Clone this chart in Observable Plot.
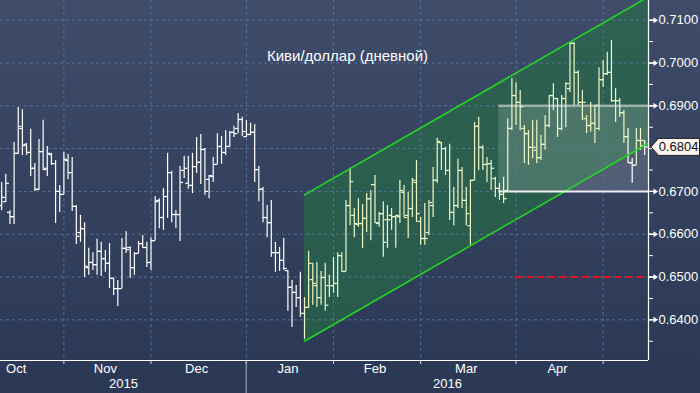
<!DOCTYPE html>
<html><head><meta charset="utf-8">
<script src="https://cdn.jsdelivr.net/npm/d3@7"></script>
<script src="https://cdn.jsdelivr.net/npm/@observablehq/plot@0.6"></script>
<style>
html,body{margin:0;padding:0;width:700px;height:393px;overflow:hidden;
background:linear-gradient(to bottom,#3f4c6a 0px,#34425f 180px,#2b3855 393px);}
#chart svg{display:block;}
</style></head><body><div id="chart"></div>
<script>
const title = "Киви/доллар (дневной)";
const firstDate = "2015-10-12";
const opens = [.6667,.6676,.6651,.6641,.6789,.6847,.6810,.6791,.6754,.6705,.6793,.6754,.6786,.6765,.6700,
.6693,.6772,.6744,.6665,.6604,.6613,.6522,.6534,.6529,.6560,.6543,.6532,.6497,.6473,.6473,.6567,.6569,.6522,.6555,.6578,.6569,
.6534,.6585,.6679,.6639,.6688,.6744,.6646,.6646,.6749,.6719,.6714,.6758,.6768,.6798,.6728,.6735,.6763,.6805,.6791,.6805,.6838,.6847,.6868,
.6828,.6833,.6838,.6751,.6705,.6639,.6627,.6557,.6557,.6539,.6515,.6476,.6464,.6452,.6415,.6429,.6494,.6480,.6452,.6499,.6480,
.6480,.6485,.6550,.6513,.6667,.6644,.6623,.6625,.6637,.6683,.6716,.6625,.6648,.6634,.6644,.6641,.6641,.6698,.6644,.6660,.6721,
.6630,.6590,.6604,.6667,.6726,.6814,.6800,.6749,.6651,.6667,.6749,.6679,.6620,.6726,.6852,.6803,.6763,.6765,.6730,.6707,.6693,.6702,.6847,
.6924,.6908,.6847,.6835,.6803,.6796,.6779,.6810,.6854,.6924,.6917,.6847,.6917,.6940,.7046,.6978,.6908,.6870,.6854,.6859,.6847,
.6961,.6975,.6978,.6912,.6912,.6884,.6828,.6767,.6761,.6819,.6807];
const highs = [.6721,.6740,.6655,.6814,.6896,.6891,.6812,.6845,.6765,.6821,.6866,.6805,.6789,.6772,.6714,
.6791,.6786,.6779,.6667,.6644,.6627,.6567,.6557,.6588,.6581,.6562,.6578,.6497,.6492,.6590,.6606,.6571,.6557,.6583,.6597,.6581,
.6592,.6688,.6683,.6707,.6789,.6747,.6655,.6758,.6782,.6782,.6789,.6826,.6833,.6800,.6737,.6779,.6835,.6828,.6842,.6840,.6852,.6882,.6873,
.6866,.6859,.6856,.6758,.6709,.6667,.6679,.6581,.6569,.6590,.6515,.6492,.6480,.6511,.6452,.6560,.6532,.6534,.6513,.6532,.6504,
.6546,.6557,.6557,.6679,.6754,.6660,.6683,.6669,.6695,.6702,.6737,.6651,.6676,.6667,.6660,.6644,.6726,.6714,.6698,.6730,.6772,
.6639,.6672,.6679,.6756,.6824,.6814,.6803,.6810,.6709,.6775,.6756,.6709,.6726,.6861,.6873,.6807,.6779,.6772,.6733,.6719,.6733,.6870,.6964,
.6954,.6936,.6854,.6842,.6866,.6866,.6831,.6877,.6924,.6952,.6917,.6924,.6954,.7048,.7048,.6982,.6936,.6877,.6908,.6901,.6989,
.7006,.7025,.7053,.6940,.6917,.6889,.6847,.6777,.6847,.6847,.6819];
const lows = [.6655,.6674,.6623,.6623,.6786,.6784,.6784,.6735,.6700,.6702,.6749,.6735,.6761,.6625,.6651,
.6693,.6728,.6653,.6576,.6581,.6499,.6504,.6515,.6504,.6501,.6511,.6473,.6457,.6431,.6473,.6555,.6497,.6504,.6555,.6567,.6522,
.6515,.6585,.6613,.6609,.6637,.6627,.6613,.6583,.6730,.6705,.6695,.6742,.6716,.6691,.6683,.6721,.6763,.6763,.6784,.6803,.6826,.6835,.6828,
.6826,.6831,.6721,.6676,.6627,.6592,.6546,.6511,.6513,.6515,.6420,.6382,.6429,.6406,.6354,.6427,.6434,.6429,.6434,.6420,.6452,
.6462,.6452,.6511,.6513,.6620,.6592,.6616,.6567,.6604,.6585,.6625,.6616,.6546,.6567,.6609,.6567,.6625,.6639,.6590,.6639,.6627,
.6574,.6574,.6597,.6639,.6719,.6749,.6737,.6632,.6620,.6660,.6660,.6620,.6574,.6726,.6749,.6749,.6721,.6702,.6686,.6679,.6672,.6698,.6842,
.6854,.6842,.6765,.6761,.6777,.6765,.6772,.6796,.6849,.6889,.6826,.6842,.6849,.6931,.6901,.6901,.6866,.6835,.6838,.6812,.6842,
.6943,.6971,.6908,.6861,.6873,.6812,.6765,.6719,.6761,.6796,.6784];
const closes = [.6686,.6719,.6641,.6789,.6852,.6807,.6791,.6754,.6705,.6793,.6751,.6789,.6765,.6700,.6693,
.6775,.6744,.6665,.6595,.6613,.6525,.6534,.6529,.6560,.6543,.6532,.6497,.6473,.6473,.6567,.6564,.6522,.6555,.6578,.6569,.6534,
.6585,.6676,.6639,.6688,.6744,.6646,.6646,.6721,.6754,.6714,.6758,.6768,.6798,.6700,.6737,.6763,.6805,.6791,.6805,.6838,.6835,.6868,.6840,
.6833,.6838,.6751,.6705,.6639,.6627,.6557,.6557,.6539,.6520,.6476,.6464,.6452,.6415,.6429,.6532,.6485,.6452,.6499,.6434,.6480,
.6485,.6550,.6513,.6667,.6723,.6625,.6625,.6637,.6683,.6716,.6627,.6648,.6581,.6634,.6641,.6644,.6702,.6639,.6660,.6726,.6648,
.6590,.6590,.6674,.6726,.6817,.6800,.6749,.6651,.6667,.6749,.6679,.6648,.6726,.6852,.6803,.6763,.6765,.6754,.6707,.6693,.6683,.6847,.6924,
.6908,.6898,.6835,.6803,.6803,.6779,.6810,.6854,.6924,.6917,.6847,.6917,.6952,.7046,.6978,.6908,.6908,.6854,.6859,.6901,.6961,
.6975,.6978,.6912,.6912,.6884,.6828,.6767,.6761,.6819,.6819,.6804];
const lastPrice = 0.6804;
const monthLabels = ["Oct","Nov","Dec","Jan","Feb","Mar","Apr"];
const monthKeys = ["2015-10","2015-11","2015-12","2016-01","2016-02","2016-03","2016-04"];
const gridMonths = ["2015-11","2015-12","2016-01","2016-02","2016-03","2016-04","2016-05"];
const yearLabels = ["2015","2016"];
const yearStart2016 = "2016-01";
const yTickLabels = ["0.6400","0.6500","0.6600","0.6700","0.6800","0.6900","0.7000","0.7100"];
const yMinorTicks = [0.635,0.645,0.655,0.665,0.675,0.685,0.695,0.705];
const channelDates = ["2016-01-21","2016-05-17"];
const channelLower = [0.6350, 0.6813];
const channelUpper = [0.6692, 0.7155];
const rangeStart = "2016-03-28";
const rangeLow = 0.67, rangeHigh = 0.69;
const targetStart = "2016-04-01";
const targetLevel = 0.65;

// weekday calendar (trading-day axis)
const days = d3.utcDay.range(new Date("2015-10-01"), new Date("2016-06-01")).filter(d => d.getUTCDay() % 6 !== 0);
const iso = d => d.toISOString().slice(0,10);
const pos = new Map(days.map((d,k) => [iso(d), k]));
const idx = s => pos.get(s);
const monthFirst = m => days.findIndex(d => iso(d).slice(0,7) === m);
const monthLast = m => { let r = -1; days.forEach((d,k) => { if (iso(d).slice(0,7) === m) r = k; }); return r; };

const p0 = idx(firstDate);
const xDomain = [p0 - 0.28, p0 + opens.length - 1 + 0.93];
const yDomain = [0.6305, 0.7146];

const chanI = channelDates.map(idx);
const lowerAt = i => channelLower[0] + (channelLower[1]-channelLower[0])*(i-chanI[0])/(chanI[1]-chanI[0]);
const channel = chanI.map((i,k) => ({i, lo: channelLower[k], hi: channelUpper[k]}));

const bars = opens.map((o,k) => {
  const i = p0 + k;
  return {i, o, h: highs[k], l: lows[k], c: closes[k], inside: i >= chanI[0] && closes[k] >= lowerAt(i)};
});
const whiteBars = bars.filter(d => !d.inside);
const paleBars = bars.filter(d => d.inside);

const months = monthKeys.map((m,k) => ({label: monthLabels[k], x: (monthFirst(m) + monthLast(m)) / 2}));
const gridX = gridMonths.map(monthFirst);
const jan = monthFirst(yearStart2016);
const years = [{label: yearLabels[0], x: (xDomain[0] + jan)/2}, {label: yearLabels[1], x: (jan + xDomain[1])/2}];

const majorTicks = yTickLabels.map(Number);
const allTicks = majorTicks.concat(yMinorTicks);
const shownMajors = majorTicks.filter(v => Math.abs(v - lastPrice) > 0.0012);
const isShown = v => shownMajors.some(m => Math.abs(m - v) < 1e-7);

const arrowSym = {draw(ctx){ ctx.moveTo(0,-0.7); ctx.lineTo(5,-0.7); ctx.lineTo(5,-3); ctx.lineTo(9.5,0); ctx.lineTo(5,3); ctx.lineTo(5,0.7); ctx.lineTo(0,0.7); ctx.closePath(); }};
const labelSym = {draw(ctx){ ctx.moveTo(2.5,0); ctx.lineTo(10,-8.5); ctx.lineTo(51,-8.5); ctx.lineTo(51,8.5); ctx.lineTo(10,8.5); ctx.closePath(); }};

const grid = {stroke: "#5d7b98", strokeOpacity: 0.8, strokeDasharray: "3,3", strokeWidth: 1};
const barW = 1.2;

const chart = Plot.plot({
  width: 700, height: 393,
  marginLeft: 0, marginRight: 52, marginTop: 0, marginBottom: 33,
  style: {background: "transparent", color: "white", fontFamily: "'Liberation Sans', Arial, sans-serif", fontSize: "13px", overflow: "visible"},
  x: {domain: xDomain, axis: null},
  y: {domain: yDomain, axis: "right", ticks: allTicks, tickSize: 4, tickPadding: 6, label: null,
      tickFormat: v => isShown(v) ? v.toFixed(4) : ""},
  marks: [
    Plot.area(channel, {x1: "i", y1: "lo", y2: "hi", fill: "#266f45", fillOpacity: 0.62, clip: true}),
    Plot.rect([{x1: idx(rangeStart) - 0.15, x2: xDomain[1], y1: rangeLow, y2: rangeHigh}], {x1: "x1", x2: "x2", y1: "y1", y2: "y2", fill: "white", fillOpacity: 0.15}),
    Plot.ruleY(majorTicks, {...grid}),
    Plot.ruleX(gridX, {...grid}),
    Plot.ruleX(whiteBars, {x: "i", y1: "l", y2: "h", stroke: "white", strokeWidth: barW}),
    Plot.link(whiteBars, {x1: d => d.i - 0.75, x2: "i", y1: "o", y2: "o", stroke: "white", strokeWidth: barW}),
    Plot.link(whiteBars, {x1: "i", x2: d => d.i + 0.75, y1: "c", y2: "c", stroke: "white", strokeWidth: barW}),
    Plot.ruleX(paleBars, {x: "i", y1: "l", y2: "h", stroke: "#edf8c6", strokeWidth: barW}),
    Plot.link(paleBars, {x1: d => d.i - 0.75, x2: "i", y1: "o", y2: "o", stroke: "#edf8c6", strokeWidth: barW}),
    Plot.link(paleBars, {x1: "i", x2: d => d.i + 0.75, y1: "c", y2: "c", stroke: "#edf8c6", strokeWidth: barW}),
    Plot.line(channel, {x: "i", y: "lo", stroke: "#22d622", strokeWidth: 1.6, clip: true}),
    Plot.line(channel, {x: "i", y: "hi", stroke: "#22d622", strokeWidth: 1.6, clip: true}),
    Plot.ruleY([{y: rangeHigh, x1: idx(rangeStart) - 0.15, x2: xDomain[1]}], {y: "y", x1: "x1", x2: "x2", stroke: "#dfe8e0", strokeOpacity: 0.55, strokeWidth: 2.5}),
    Plot.ruleY([{y: rangeLow, x1: idx(rangeStart) - 0.15, x2: xDomain[1]}], {y: "y", x1: "x1", x2: "x2", stroke: "white", strokeOpacity: 0.9, strokeWidth: 2}),
    Plot.ruleY([{y: targetLevel, x1: idx(targetStart), x2: xDomain[1]}], {y: "y", x1: "x1", x2: "x2", stroke: "#e3121a", strokeWidth: 2, strokeDasharray: "7,4"}),
    Plot.ruleX([xDomain[1]], {stroke: "white", strokeWidth: 1.2}),
    Plot.ruleY([yDomain[0]], {stroke: "white", strokeWidth: 1.2}),
    Plot.ruleX(gridX, {insetTop: 360, insetBottom: -4, stroke: "white", strokeOpacity: 0.8}),
    Plot.ruleX([jan - 0.05], {insetTop: 362, insetBottom: -33, stroke: "#c9d1dc", strokeOpacity: 0.8}),
    Plot.dot(shownMajors, {y: d => d, frameAnchor: "right", symbol: arrowSym, fill: "white", stroke: "none"}),
    Plot.dot([lastPrice], {y: d => d, frameAnchor: "right", symbol: labelSym, fill: "#fff5ef", stroke: "#222", strokeWidth: 1}),
    Plot.text([lastPrice], {y: d => d, frameAnchor: "right", dx: 30, text: d => d.toFixed(4), fill: "#111", fontSize: 13, textAnchor: "middle"}),
    Plot.text(months, {x: "x", text: "label", frameAnchor: "bottom", dy: 12, fill: "white", fontSize: 13}),
    Plot.text(years, {x: "x", text: "label", frameAnchor: "bottom", dy: 27, fill: "white", fontSize: 13}),
    Plot.text([title], {frameAnchor: "top", dx: 23, dy: 50, fill: "white", fontSize: 15})
  ]
});
document.getElementById("chart").appendChild(chart);
</script></body></html>
